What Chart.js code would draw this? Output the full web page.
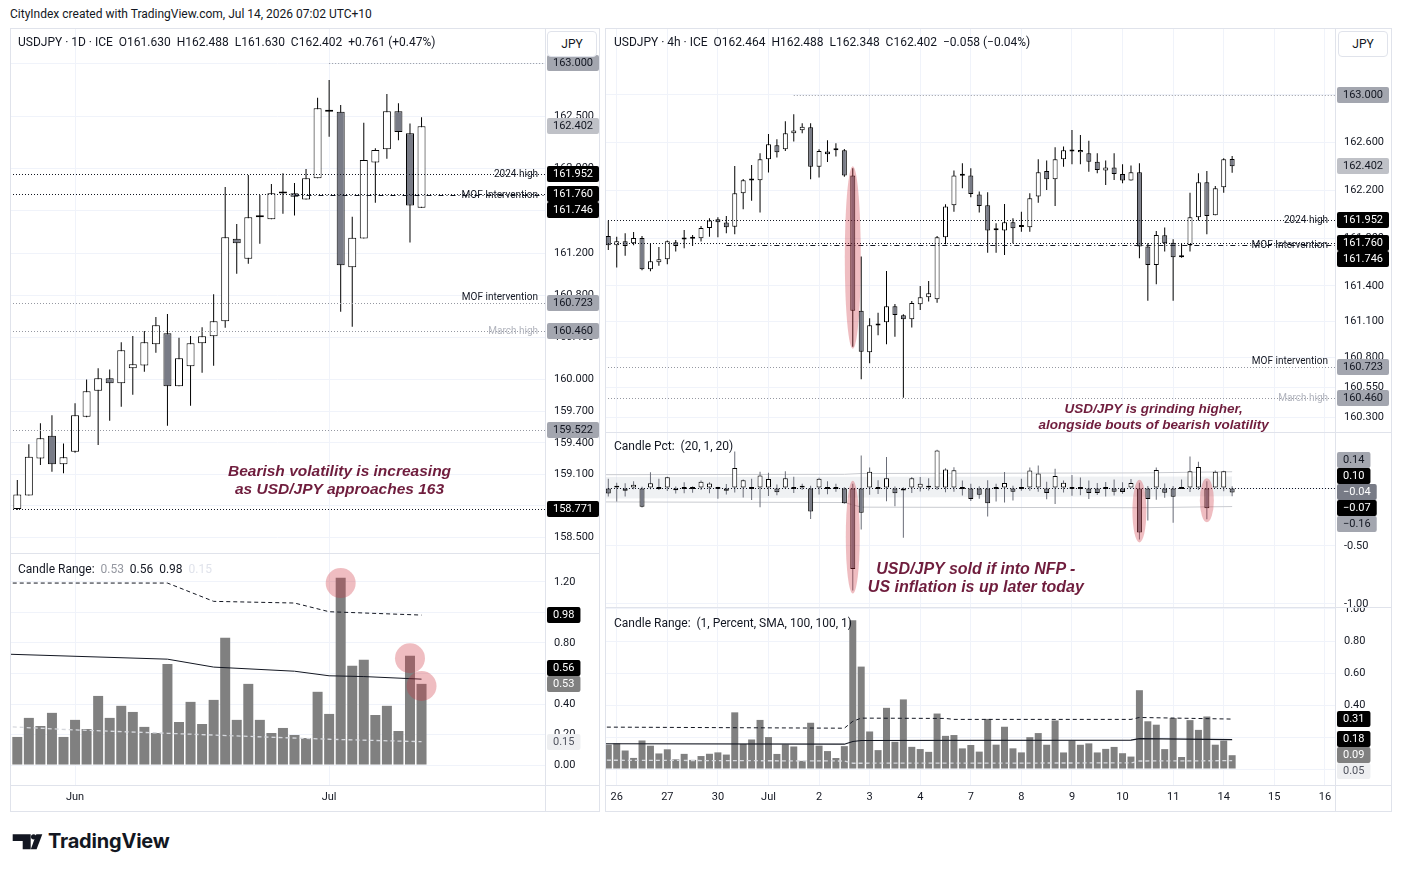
<!DOCTYPE html>
<html lang="en">
<head>
<meta charset="utf-8">
<title>USDJPY 1D and 4h</title>
<script src="https://cdn.jsdelivr.net/npm/chart.js@4.4.1/dist/chart.umd.min.js"></script>
<style>
  html, body { margin:0; padding:0; background:#ffffff; }
  body { position:relative; width:1402px; height:872px; overflow:hidden;
         font-family: Roboto, "Liberation Sans", Arial, sans-serif; color:#131722; }
  canvas { position:absolute; display:block; }
  .ln { position:absolute; background:#e0e3eb; }
  .txt { position:absolute; white-space:pre; line-height:14px; font-size:12px; }
  .jpy { position:absolute; width:50px; height:26px; box-sizing:border-box; border:1px solid #e0e3eb; border-radius:4px;
         background:#fff; font-size:12px; line-height:24px; text-align:center; color:#131722; }
  .note { position:absolute; font-family:"Liberation Sans", Arial, sans-serif; font-weight:700; font-style:italic;
          color:#6f1d3d; text-align:center; white-space:nowrap; transform:translate(-50%,-50%); }
</style>
</head>
<body>
<div class="txt" style="left:10px;top:7px;">CityIndex created with TradingView.com, Jul 14, 2026 07:02 UTC+10</div>

<canvas id="dPrice" width="590" height="525" style="left:10px;top:28px"></canvas>
<canvas id="dRange" width="590" height="259" style="left:10px;top:553px"></canvas>
<canvas id="hPrice" width="787" height="404" style="left:605px;top:28px"></canvas>
<canvas id="hPct" width="787" height="175" style="left:605px;top:432px"></canvas>
<canvas id="hRange" width="787" height="205" style="left:605px;top:607px"></canvas>

<!-- frames and pane separators -->
<div class="ln" style="left:10px;top:28px;width:590px;height:1px"></div>
<div class="ln" style="left:10px;top:811px;width:590px;height:1px"></div>
<div class="ln" style="left:10px;top:28px;width:1px;height:784px"></div>
<div class="ln" style="left:599px;top:28px;width:1px;height:784px"></div>
<div class="ln" style="left:545px;top:28px;width:1px;height:784px"></div>
<div class="ln" style="left:10px;top:553px;width:590px;height:1px"></div>
<div class="ln" style="left:10px;top:785px;width:590px;height:1px"></div>

<div class="ln" style="left:605px;top:28px;width:787px;height:1px"></div>
<div class="ln" style="left:605px;top:811px;width:787px;height:1px"></div>
<div class="ln" style="left:605px;top:28px;width:1px;height:784px"></div>
<div class="ln" style="left:1391px;top:28px;width:1px;height:784px"></div>
<div class="ln" style="left:1335px;top:28px;width:1px;height:784px"></div>
<div class="ln" style="left:605px;top:432px;width:787px;height:1px"></div>
<div class="ln" style="left:605px;top:607px;width:787px;height:1px"></div>
<div class="ln" style="left:605px;top:785px;width:787px;height:1px"></div>

<!-- legends -->
<div class="txt" style="left:18px;top:35px;">USDJPY · 1D · ICE  O161.630  H162.488  L161.630  C162.402  +0.761 (+0.47%)</div>
<div class="txt" style="left:614px;top:35px;">USDJPY · 4h · ICE  O162.464  H162.488  L162.348  C162.402  −0.058 (−0.04%)</div>
<div class="txt" style="left:18px;top:562px;">Candle Range:  <span style="color:#9598a1">0.53</span>  0.56  0.98  <span style="color:#e0e3eb">0.15</span></div>
<div class="txt" style="left:614px;top:439px;">Candle Pct:  (20, 1, 20)</div>
<div class="txt" style="left:614px;top:616px;">Candle Range:  (1, Percent, SMA, 100, 100, 1)</div>

<div class="jpy" style="left:547px;top:31px;">JPY</div>
<div class="jpy" style="left:1338px;top:31px;">JPY</div>

<!-- TradingView logo -->
<svg style="position:absolute;left:0;top:815px" width="48" height="40" viewBox="0 0 48 40">
  <path d="M12.7 19.3 H30.7 V34.3 H22.7 V26 H12.7 Z" fill="#131722"/>
  <circle cx="33.6" cy="21.8" r="2.6" fill="#131722"/>
  <path d="M36.3 19.3 H42.3 L36.6 34.3 H30.8 Z" fill="#131722"/>
</svg>
<div style="position:absolute;left:48px;top:831px;font-family:Inter, Roboto, sans-serif;font-weight:700;font-size:20px;line-height:20px;color:#131722;letter-spacing:-0.2px;">TradingView</div>

<script>
// ================= DATA =================
// Daily USDJPY candles (one per trading day, 25 May - 13 Jul)
const dailyOpen  = [158.771,158.900,159.250,159.467,159.195,159.315,159.647,159.894,160.011,159.964,160.106,160.134,160.334,160.438,159.935,160.125,160.343,160.410,160.552,161.336,161.146,161.550,161.520,161.765,161.766,161.709,161.909,162.545,162.541,161.064,161.339,162.060,162.184,162.544,162.336,161.630];
const dailyHigh  = [159.047,159.385,159.584,159.660,159.394,159.774,160.000,160.106,160.096,160.353,160.413,160.460,160.593,160.621,160.397,160.413,160.495,160.808,161.826,161.475,161.940,161.750,161.855,161.956,161.864,161.997,162.674,162.842,162.604,161.545,162.437,162.193,162.709,162.620,162.430,162.488];
const dailyLow   = [158.762,158.900,159.189,159.125,159.110,159.306,159.641,159.379,159.609,159.742,159.856,160.074,160.255,159.562,159.935,159.752,160.065,160.131,160.492,161.004,161.099,161.289,161.520,161.573,161.555,161.709,161.909,162.304,160.644,160.501,161.339,161.678,162.095,162.269,161.301,161.630];
const dailyClose = [158.910,159.268,159.442,159.195,159.262,159.660,159.888,160.011,159.964,160.277,160.144,160.353,160.514,159.935,160.201,160.343,160.410,160.552,161.349,161.292,161.539,161.540,161.766,161.768,161.735,161.909,162.573,162.540,161.083,161.346,162.083,162.177,162.544,162.348,161.652,162.402];
// Daily "Candle Range" indicator (percent)
const dailyRangePct = [0.184,0.309,0.256,0.342,0.184,0.296,0.236,0.453,0.309,0.388,0.348,0.250,0.210,0.663,0.282,0.414,0.269,0.427,0.834,0.296,0.532,0.296,0.210,0.243,0.197,0.177,0.480,0.335,1.228,0.650,0.690,0.328,0.388,0.223,0.716,0.532];
const dailyRangeUpper = [[-1,1.193],[13,1.193],[17,1.073],[24,1.062],[27,1.005],[35,0.983]];
const dailyRangeSma   = [[-1,0.727],[13,0.694],[17,0.642],[24,0.615],[27,0.585],[30,0.580],[35,0.563]];
const dailyRangeLower = [[-1,0.252],[5,0.230],[13,0.208],[22,0.182],[27,0.169],[35,0.153]];
const dailyTickIdx = [5, 27];
const dailyTickLabels = ['Jun', 'Jul'];
const dailyPriceTicks = [163.0,162.5,162.0,161.6,161.2,160.8,160.4,160.0,159.7,159.4,159.1,158.8,158.5];
const dailyRangeTicks = [0,0.2,0.4,0.6,0.8,1.0,1.2];
const dailyLevels     = [163.000,161.952,161.760,161.746,160.723,160.460,159.522,158.771];
const dailyLevelNames = ['','2024 high','','MOF Intervention','MOF intervention','March high','',''];
const dailyLevelFrom  = [27,null,null,24,null,null,null,null];
const dailyHighlights = [[28,1.193],[34,0.700],[35,0.518]];

// 4h USDJPY candles (25 Jun - 14 Jul)
const h4Open  = [161.818,161.740,161.773,161.757,161.801,161.539,161.597,161.622,161.765,161.788,161.800,161.799,161.885,161.958,161.930,161.896,162.176,162.283,162.285,162.461,162.578,162.544,162.679,162.704,162.729,162.399,162.525,162.536,162.536,162.324,161.192,160.843,161.067,161.094,161.228,161.153,161.120,161.245,161.304,161.287,161.807,162.075,162.322,162.324,162.165,162.075,161.866,161.863,161.933,161.894,161.891,162.148,162.363,162.293,162.461,162.526,162.519,162.511,162.441,162.366,162.391,162.338,162.282,162.352,161.729,161.575,161.824,161.762,161.640,161.743,161.975,162.268,161.991,162.226,162.464];
const h4High  = [161.947,161.812,161.840,161.852,161.818,161.757,161.726,161.779,161.785,161.868,161.826,161.902,161.966,161.975,161.986,162.405,162.296,162.413,162.511,162.673,162.628,162.779,162.838,162.762,162.762,162.544,162.620,162.595,162.547,162.385,161.645,161.128,161.175,161.525,161.248,161.161,161.273,161.399,161.441,161.818,162.083,162.366,162.427,162.385,162.190,162.184,161.924,162.086,161.966,162.022,162.176,162.461,162.450,162.561,162.567,162.707,162.665,162.617,162.511,162.450,162.511,162.419,162.408,162.427,161.757,161.860,161.888,161.790,161.757,162.181,162.343,162.363,162.237,162.469,162.488];
const h4Low   = [161.701,161.553,161.653,161.740,161.530,161.522,161.569,161.580,161.687,161.715,161.734,161.771,161.812,161.807,161.840,161.832,162.042,162.114,162.014,162.349,162.475,162.530,162.609,162.679,162.293,162.307,162.438,162.483,162.315,160.890,160.617,160.751,160.985,160.910,160.974,160.463,161.050,161.198,161.268,161.259,161.748,162.022,162.218,162.142,162.014,161.678,161.678,161.659,161.757,161.854,161.854,162.097,162.204,162.069,162.399,162.419,162.419,162.357,162.343,162.246,162.287,162.259,162.282,161.631,161.276,161.413,161.687,161.276,161.636,161.687,161.947,161.832,161.991,162.181,162.348];
const h4Close = [161.740,161.773,161.734,161.801,161.539,161.606,161.622,161.773,161.734,161.792,161.795,161.885,161.947,161.933,161.891,162.176,162.285,162.287,162.461,162.586,162.519,162.679,162.701,162.734,162.399,162.530,162.503,162.538,162.324,161.192,160.848,161.069,161.071,161.228,161.156,161.120,161.256,161.304,161.337,161.807,162.064,162.324,162.326,162.170,162.070,161.863,161.870,161.933,161.882,161.898,162.134,162.352,162.293,162.461,162.536,162.530,162.538,162.441,162.371,162.391,162.338,162.282,162.352,161.729,161.575,161.826,161.757,161.639,161.645,161.975,162.268,161.986,162.218,162.461,162.402];
const h4TickIdx = [1,7,13,19,25,31,37,43,49,55,61,67,73,79,85];
const h4TickLabels = ['26','27','30','Jul','2','3','4','7','8','9','10','11','14','15','16'];
const h4PriceTicks = [163.0,162.6,162.2,161.8,161.4,161.1,160.8,160.55,160.3];
const h4PctTicks = [0,-0.5,-1.0];
const h4RangeTicks = [0,0.2,0.4,0.6,0.8,1.0];
const h4Levels     = [163.000,161.952,161.760,161.746,160.723,160.460];
const h4LevelNames = ['','2024 high','','MOF Intervention','MOF intervention','March high'];
const h4LevelFrom  = [22,null,null,14,null,null];
// Candle Pct bands
const h4PctOuterUpper = [[-1,0.115],[28,0.118],[30,0.125],[63,0.130],[74,0.140]];
const h4PctOuterLower = [[-1,-0.120],[28,-0.125],[30,-0.165],[63,-0.170],[74,-0.160]];
const h4PctBandUpper  = [[-1,0.095],[74,0.100]];
const h4PctBandLower  = [[-1,-0.090],[74,-0.072]];
// Candle Range (4h) averages
const h4RangeUpper = [[-1,0.262],[28,0.255],[29,0.298],[30,0.318],[40,0.316],[41,0.310],[62,0.310],[63,0.322],[74,0.312]];
const h4RangeSma   = [[-1,0.158],[28,0.155],[29,0.172],[30,0.178],[62,0.181],[63,0.190],[74,0.184]];
const h4RangeLower = [[-1,0.055],[28,0.050],[29,0.036],[62,0.038],[63,0.050],[74,0.052]];
const h4Highlights = [29, 63, 71];

// ================= DRAWING =================
const FONT = 'Roboto, "Liberation Sans", Arial, sans-serif';
const TXT = '#131722';
const GRID = '#f0f3fa';
const UP = '#ffffff', DOWN = '#787b86';
const HL = 'rgba(204,51,61,0.32)';
Chart.defaults.font.family = FONT;

const LEVEL_STYLE = {
  grey:    { color:'#9598a1', dash:[1,2] },
  black:   { color:'#131722', dash:[1,2] },
  dashdot: { color:'#131722', dash:[5,3,1,3] }
};
const LABEL_STYLE = {
  '2024 high':        { color:'#131722', above:false },
  'MOF Intervention': { color:'#131722', above:false },
  'MOF intervention': { color:'#131722', above:true },
  'March high':       { color:'#b2b5be', above:false }
};
const BOX = {
  black: { bg:'#000000', fg:'#ffffff' },
  grey:  { bg:'#a3a6af', fg:'#131722' },
  light: { bg:'#bfc1c7', fg:'#131722' },
  dark:  { bg:'#787b86', fg:'#ffffff' },
  bar:   { bg:'#808080', fg:'#ffffff' },
  pale:  { bg:'#eeeff1', fg:'#50535e' }
};

const pts = arr => arr.map(p => ({ x:p[0], y:p[1] }));
const last = arr => arr[arr.length - 1];
const lastPt = arr => arr[arr.length - 1][1];

function mkScales(o) {
  return {
    x: {
      type:'linear', min:o.xMin, max:o.xMax, offset:false, bounds:'ticks',
      afterBuildTicks: s => { s.ticks = o.xTicks.map(v => ({ value:v })); },
      ticks: { display:!!o.showX, autoSkip:false, maxRotation:0, padding:6, color:TXT,
               font:{ family:FONT, size:11 },
               callback: v => { const k = o.xTicks.indexOf(v); return k < 0 ? '' : o.xLabels[k]; } },
      grid: { color:GRID, drawTicks:false, offset:false },
      border: { display:false },
      afterFit: s => { s.height = o.showX ? 27 : 0; s.paddingLeft = 0; s.paddingRight = 0; }
    },
    y: {
      type:'linear', position:'right', min:o.yMin, max:o.yMax, beginAtZero:false,
      afterBuildTicks: s => { s.ticks = o.yTicks.map(v => ({ value:v })); },
      ticks: { autoSkip:false, padding:9, color:TXT, font:{ family:FONT, size:11 },
               callback: v => Number(v).toFixed(o.dec) },
      grid: { color:GRID, drawTicks:false },
      border: { display:false },
      afterFit: s => { s.width = o.axisW; s.paddingTop = 0; s.paddingBottom = 0; }
    }
  };
}

function overlay(cfg) {
  return {
    id: 'overlay',
    afterDatasetsDraw(chart) {
      const { ctx, chartArea:a, scales:{ x, y } } = chart;
      ctx.save();
      ctx.beginPath(); ctx.rect(a.left, a.top, a.right - a.left, a.bottom - a.top); ctx.clip();
      (cfg.levels || []).forEach(L => {
        const st = LEVEL_STYLE[L.kind];
        const py = Math.round(y.getPixelForValue(L.value)) + 0.5;
        const x0 = (L.from == null) ? a.left : x.getPixelForValue(L.from);
        ctx.strokeStyle = st.color; ctx.lineWidth = 1; ctx.setLineDash(st.dash);
        ctx.beginPath(); ctx.moveTo(x0, py); ctx.lineTo(a.right, py); ctx.stroke();
        ctx.setLineDash([]);
        if (L.text) {
          const ls = LABEL_STYLE[L.text];
          ctx.font = '10px ' + FONT; ctx.fillStyle = ls.color; ctx.textAlign = 'right';
          ctx.textBaseline = ls.above ? 'bottom' : 'middle';
          ctx.fillText(L.text, a.right - 7, ls.above ? py - 1 : py);
        }
      });
      (cfg.marks || []).forEach(m => {
        const cx = x.getPixelForValue(m.x);
        const y1 = y.getPixelForValue(m.hi), y2 = y.getPixelForValue(m.lo);
        ctx.fillStyle = HL;
        ctx.beginPath();
        ctx.ellipse(cx, (y1 + y2) / 2, m.rx, Math.abs(y2 - y1) / 2 + m.pad, 0, 0, Math.PI * 2);
        ctx.fill();
      });
      ctx.restore();
    },
    afterDraw(chart) {
      const { ctx, chartArea:a, scales:{ y } } = chart;
      const H = 16, placed = [];
      ctx.save();
      ctx.font = '11px ' + FONT;
      (cfg.boxes || []).forEach(b => {
        const nat = y.getPixelForValue(b.value);
        let py = nat, guard = 0, moved = true;
        while (moved && guard++ < 20) {
          moved = false;
          for (const p of placed) {
            if (Math.abs(py - p.py) < H - 0.01) { py = nat >= p.nat ? p.py + H : p.py - H; moved = true; }
          }
        }
        placed.push({ py, nat });
        const text = b.value.toFixed(cfg.dec).replace('-', '\u2212');
        const st = BOX[b.kind];
        const w = ctx.measureText(text).width + 12;
        const bx = a.right + 2;
        ctx.fillStyle = st.bg;
        ctx.beginPath(); ctx.roundRect(bx, Math.round(py - H / 2), w, H, 2); ctx.fill();
        ctx.fillStyle = st.fg; ctx.textAlign = 'left'; ctx.textBaseline = 'middle';
        ctx.fillText(text, bx + 6, Math.round(py) + 0.5);
      });
      ctx.restore();
    }
  };
}

function baseOptions(scales) {
  return {
    responsive:false, animation:false, events:[],
    layout:{ padding:0 },
    plugins:{ legend:{ display:false }, tooltip:{ enabled:false } },
    scales
  };
}

function candleSets(open, high, low, close, bodyW, wickColor) {
  const idx = open.map((_, i) => i);
  return [
    { type:'bar', data: idx.map(i => ({ x:i, y:[low[i], high[i]] })), backgroundColor: wickColor,
      borderWidth:0, barThickness:1, grouped:false, inflateAmount:0, order:5 },
    { type:'bar', data: idx.map(i => ({ x:i, y:[open[i], close[i]] })),
      backgroundColor: idx.map(i => close[i] >= open[i] ? UP : DOWN),
      borderColor:'#000000', borderWidth:1, borderSkipped:false, barThickness:bodyW, minBarLength:2,
      grouped:false, inflateAmount:0, order:4 }
  ];
}
function lineSet(points, color, dash, width, order) {
  return { type:'line', data: pts(points), borderColor: color, borderDash: dash, borderWidth: width,
           pointRadius:0, tension:0, fill:false, order };
}

function note(canvasId, chart, xv, yv, lines, size, lh) {
  const c = document.getElementById(canvasId);
  const px = chart.scales.x.getPixelForValue(xv), py = chart.scales.y.getPixelForValue(yv);
  const d = document.createElement('div');
  d.className = 'note';
  d.style.left = (c.offsetLeft + px) + 'px';
  d.style.top = (c.offsetTop + py) + 'px';
  d.style.fontSize = size + 'px';
  d.style.lineHeight = lh + 'px';
  d.innerHTML = lines.join('<br>');
  document.body.appendChild(d);
}

const levelKindsDaily = ['grey','black','black','dashdot','grey','grey','grey','black'];
const levelKindsH4 = ['grey','black','black','dashdot','grey','grey'];
const boxKindsDaily = ['grey','black','black','black','grey','grey','grey','black'];
const boxKindsH4 = ['grey','black','black','black','grey','grey'];

// ---------- Daily price ----------
const dX = { xMin:-0.632, xMax:45.69, xTicks:dailyTickIdx, xLabels:dailyTickLabels };
const dPrice = new Chart(document.getElementById('dPrice'), {
  type:'bar',
  data:{ datasets: candleSets(dailyOpen, dailyHigh, dailyLow, dailyClose, 8, '#000000') },
  options: baseOptions(mkScales({ ...dX, showX:false, yMin:158.354, yMax:163.335, yTicks:dailyPriceTicks, dec:3, axisW:55 })),
  plugins:[ overlay({
    dec:3,
    levels: dailyLevels.map((v, i) => ({ value:v, kind:levelKindsDaily[i], from:dailyLevelFrom[i], text:dailyLevelNames[i] })),
    boxes: [ ...dailyLevels.map((v, i) => ({ value:v, kind:boxKindsDaily[i] })).slice(0,1),
             { value:last(dailyClose), kind:'light' },
             ...dailyLevels.map((v, i) => ({ value:v, kind:boxKindsDaily[i] })).slice(1) ]
  }) ]
});

// ---------- Daily candle range ----------
const dRange = new Chart(document.getElementById('dRange'), {
  type:'bar',
  data:{ datasets:[
    { type:'bar', data: dailyRangePct.map((v, i) => ({ x:i, y:v })), backgroundColor:'#808080',
      barThickness:10, grouped:false, inflateAmount:0, order:6 },
    lineSet(dailyRangeUpper, '#131722', [4,3], 1, 1),
    lineSet(dailyRangeSma, '#131722', [], 1, 1),
    lineSet(dailyRangeLower, '#d6d8dd', [4,3], 1.3, 1)
  ]},
  options: baseOptions(mkScales({ ...dX, showX:true, yMin:-0.131, yMax:1.390, yTicks:dailyRangeTicks, dec:2, axisW:55 })),
  plugins:[ overlay({
    dec:2,
    marks: dailyHighlights.map(h => ({ x:h[0], hi:h[1], lo:h[1], rx:15, pad:15 })),
    boxes: [ { value:last(dailyRangePct), kind:'bar' }, { value:lastPt(dailyRangeUpper), kind:'black' },
             { value:lastPt(dailyRangeSma), kind:'black' }, { value:lastPt(dailyRangeLower), kind:'pale' } ]
  }) ]
});

// ---------- 4h price ----------
const hX = { xMin:-0.391, xMax:86.2, xTicks:h4TickIdx, xLabels:h4TickLabels };
const hPrice = new Chart(document.getElementById('hPrice'), {
  type:'bar',
  data:{ datasets: candleSets(h4Open, h4High, h4Low, h4Close, 5, '#000000') },
  options: baseOptions(mkScales({ ...hX, showX:false, yMin:160.175, yMax:163.561, yTicks:h4PriceTicks, dec:3, axisW:57 })),
  plugins:[ overlay({
    dec:3,
    levels: h4Levels.map((v, i) => ({ value:v, kind:levelKindsH4[i], from:h4LevelFrom[i], text:h4LevelNames[i] })),
    marks: [ { x:h4Highlights[0], hi:h4High[h4Highlights[0]], lo:h4Low[h4Highlights[0]], rx:8, pad:2 } ],
    boxes: [ { value:h4Levels[0], kind:'grey' }, { value:last(h4Close), kind:'light' },
             ...h4Levels.map((v, i) => ({ value:v, kind:boxKindsH4[i] })).slice(1) ]
  }) ]
});

// ---------- 4h candle pct ----------
const pctO = h4Open.map(() => 0);
const pctC = h4Close.map((c, i) => (c - h4Open[i]) / h4Open[i] * 100);
const pctH = h4High.map((h, i) => (h - h4Open[i]) / h4Open[i] * 100);
const pctL = h4Low.map((l, i) => (l - h4Open[i]) / h4Open[i] * 100);
const hPct = new Chart(document.getElementById('hPct'), {
  type:'bar',
  data:{ datasets:[
    { type:'line', data: pts(h4PctBandUpper), borderWidth:0, pointRadius:0, fill:'+1', backgroundColor:'rgba(214,217,224,0.38)', order:9 },
    { type:'line', data: pts(h4PctBandLower), borderWidth:0, pointRadius:0, fill:false, order:9 },
    lineSet(h4PctOuterUpper, '#c9cbd0', [], 1, 8),
    lineSet(h4PctOuterLower, '#c9cbd0', [], 1, 8),
    ...candleSets(pctO, pctH, pctL, pctC, 5, '#6a6d78')
  ]},
  options: baseOptions(mkScales({ ...hX, showX:false, yMin:-1.0259, yMax:0.4828, yTicks:h4PctTicks, dec:2, axisW:57 })),
  plugins:[ overlay({
    dec:2,
    levels: [ { value:0, kind:'black', from:null, text:'' } ],
    marks: h4Highlights.map(i => ({ x:i, hi:pctH[i], lo:pctL[i], rx:7, pad:3 })),
    boxes: [ { value:lastPt(h4PctBandUpper), kind:'black' }, { value:last(pctC), kind:'dark' },
             { value:lastPt(h4PctOuterUpper), kind:'grey' }, { value:lastPt(h4PctBandLower), kind:'black' },
             { value:lastPt(h4PctOuterLower), kind:'grey' } ]
  }) ]
});

// ---------- 4h candle range ----------
const h4RangePct = h4High.map((h, i) => (h - h4Low[i]) / h4Low[i] * 100);
const hRange = new Chart(document.getElementById('hRange'), {
  type:'bar',
  data:{ datasets:[
    { type:'bar', data: h4RangePct.map((v, i) => ({ x:i, y:v })), backgroundColor:'#808080',
      barThickness:7, grouped:false, inflateAmount:0, order:6 },
    lineSet(h4RangeUpper, '#131722', [4,3], 1, 1),
    lineSet(h4RangeSma, '#131722', [], 1.2, 1),
    lineSet(h4RangeLower, '#d6d8dd', [4,3], 1.3, 1)
  ]},
  options: baseOptions(mkScales({ ...hX, showX:true, yMin:-0.1, yMax:1.0125, yTicks:h4RangeTicks, dec:2, axisW:57 })),
  plugins:[ overlay({
    dec:2,
    boxes: [ { value:last(h4RangePct), kind:'bar' }, { value:lastPt(h4RangeUpper), kind:'black' },
             { value:lastPt(h4RangeSma), kind:'black' }, { value:lastPt(h4RangeLower), kind:'pale' } ]
  }) ]
});

// ---------- annotations ----------
note('dPrice', dPrice, 27.9, 159.047, ['Bearish volatility is increasing', 'as USD/JPY approaches 163'], 15.5, 18);
note('hPrice', hPrice, 64.7, 160.301, ['USD/JPY is grinding higher,', 'alongside bouts of bearish volatility'], 13.5, 16);
note('hPct', hPct, 43.6, -0.776, ['USD/JPY sold if into NFP -', 'US inflation is up later today'], 16, 18);
</script>
</body>
</html>
